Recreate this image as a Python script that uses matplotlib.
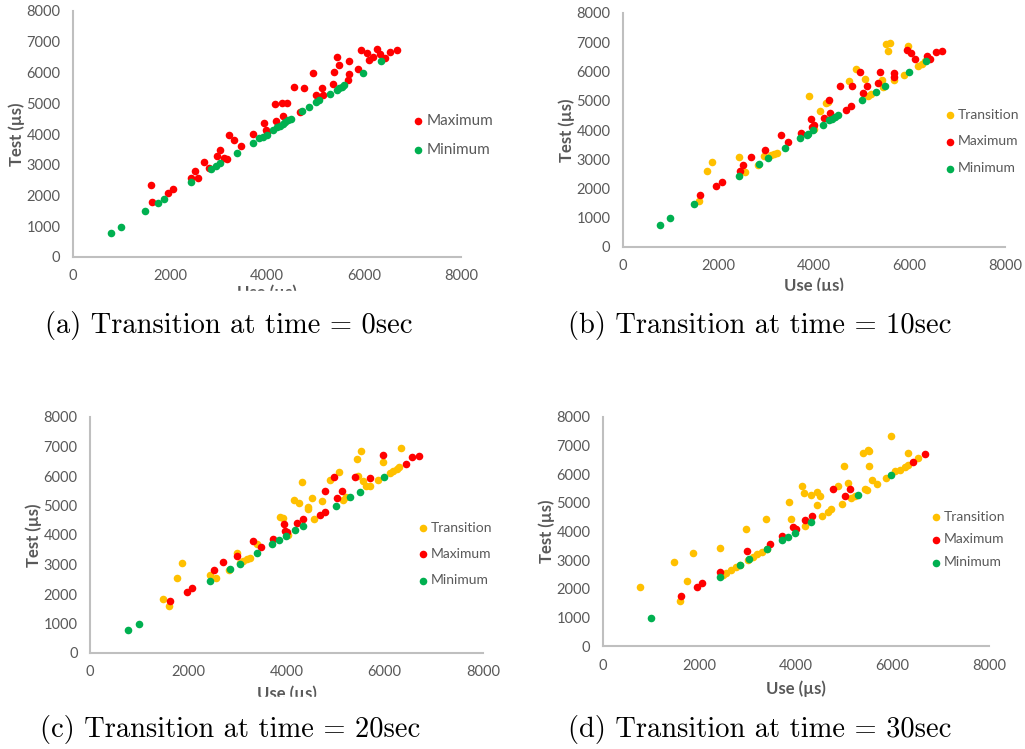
import matplotlib
matplotlib.use('Agg')
import matplotlib.pyplot as plt
from matplotlib.patches import Rectangle

# (a) transition at 0 s
a_max_x = [1600, 1620, 1960, 2065, 2430, 2510, 2580, 2700, 2810, 2970, 3030, 3110, 3180, 3220,
           3315, 3460, 3715, 3935, 3970, 4010, 4175, 4195, 4300, 4335, 4415, 4555, 4680, 4770,
           4955, 5020, 5125, 5160, 5365, 5385, 5450, 5485, 5675, 5690, 5690, 5870, 5945, 6055,
           6110, 6180, 6270, 6330, 6435, 6535, 6675]
a_max_y = [2350, 1780, 2080, 2210, 2570, 2810, 2570, 3080, 2900, 3300, 3480, 3210, 3190, 3960,
           3820, 3600, 4000, 4370, 4145, 4050, 4960, 4430, 5010, 4570, 5010, 5530, 4710, 5510,
           6000, 5280, 5510, 5260, 5620, 6010, 6510, 6240, 5770, 6390, 5960, 6120, 6740, 6620,
           6420, 6500, 6770, 6600, 6460, 6680, 6730]
a_min_x = [780, 985, 1480, 1760, 1880, 2430, 2855, 2945, 3040, 3385, 3715, 3845, 3920, 3990,
           4130, 4200, 4265, 4320, 4380, 4440, 4500, 4730, 4870, 5020, 5070, 5300, 5435, 5490,
           5540, 5590, 5970, 6345]
a_min_y = [770, 980, 1485, 1760, 1880, 2440, 2865, 2960, 3050, 3395, 3710, 3865, 3915, 3980,
           4145, 4220, 4270, 4325, 4390, 4445, 4500, 4740, 4885, 5035, 5100, 5305, 5430, 5490,
           5540, 5590, 5980, 6370]

# (b) transition at 10 s
b_tr_x = [1585, 1750, 1870, 2425, 2560, 2820, 2955, 3100, 3170, 3230, 3890, 4010, 4135, 4255,
          4300, 4730, 4875, 5070, 5140, 5190, 5420, 5455, 5515, 5585, 5540, 5685, 5875, 5965,
          6185, 6255, 6325]
b_tr_y = [1580, 2600, 2920, 3065, 2555, 2820, 3110, 3130, 3190, 3230, 5170, 4035, 4645, 4910,
          4965, 5670, 6090, 5750, 5170, 5220, 5725, 5455, 6940, 6975, 6700, 5715, 5875, 6860,
          6190, 6270, 6350]
b_max_x = [1610, 1955, 2070, 2440, 2510, 2685, 2980, 3315, 3460, 3725, 3940, 3955, 3990, 4200,
           4305, 4340, 4550, 4675, 4765, 4790, 4965, 5035, 5120, 5350, 5385, 5685, 5680, 5945,
           6035, 6105, 6360, 6430, 6550, 6680]
b_max_y = [1770, 2080, 2215, 2590, 2820, 3090, 3315, 3815, 3600, 3885, 4375, 4110, 4170, 4420,
           5020, 4565, 5520, 4670, 4805, 5500, 5995, 5260, 5490, 5600, 5985, 5955, 5805, 6725,
           6620, 6420, 6545, 6440, 6670, 6715]
b_min_x = [775, 985, 1480, 2425, 2855, 3040, 3395, 3710, 3845, 3870, 3985, 4180, 4315, 4380,
           4440, 4510, 5010, 5300, 5490, 5980, 6345]
b_min_y = [760, 975, 1475, 2420, 2850, 3045, 3385, 3715, 3840, 3860, 3990, 4170, 4330, 4380,
           4440, 4510, 5010, 5295, 5500, 5975, 6350]

# (c) transition at 20 s
c_tr_x = [1485, 1600, 1765, 1880, 2440, 2575, 2835, 2985, 3050, 3120, 3190, 3250, 3390, 3865,
          3920, 4035, 4150, 4250, 4310, 4440, 4440, 4510, 4555, 4730, 4880, 5070, 5150, 5220,
          5425, 5460, 5510, 5560, 5625, 5695, 5865, 5965, 6100, 6170, 6240, 6300, 6340]
c_tr_y = [1830, 1580, 2530, 3050, 2655, 2540, 2825, 3390, 3050, 3120, 3190, 3220, 3695, 4600,
          4575, 4010, 5175, 5085, 5785, 4895, 4950, 5255, 4555, 5140, 5875, 6135, 5200, 5290,
          6575, 5990, 6835, 5820, 5675, 5675, 5855, 6485, 6100, 6170, 6240, 6300, 6950]
c_max_x = [1625, 1965, 2080, 2520, 2700, 2990, 3310, 3480, 3730, 3945, 3965, 4000, 4205, 4340,
           4690, 4780, 4785, 4970, 5035, 5120, 5395, 5695, 5955, 6425, 6550, 6690]
c_max_y = [1775, 2080, 2205, 2800, 3075, 3300, 3810, 3580, 3865, 4375, 4125, 4090, 4395, 4545,
           4680, 4780, 5480, 5965, 5245, 5480, 5980, 5930, 6710, 6405, 6635, 6680]
c_min_x = [780, 995, 2440, 2855, 3045, 3405, 3715, 3850, 3980, 4175, 4340, 5015, 5300, 5500,
           5985]
c_min_y = [770, 985, 2430, 2835, 3015, 3380, 3695, 3820, 3980, 4160, 4315, 4995, 5290, 5470,
           5965]

# (d) transition at 30 s
d_tr_x = [765, 1475, 1590, 1750, 1865, 2425, 2480, 2550, 2650, 2760, 2840, 3000, 3100, 3200,
          3300, 3400, 2960, 3375, 3860, 3895, 4130, 4160, 4185, 4320, 4425, 4425, 4495, 4530,
          4665, 4735, 4875, 4945, 5000, 5070, 5150, 5220, 5395, 5485, 5515, 5425, 5475, 5515,
          5565, 5670, 5865, 5960, 6050, 6150, 6250, 6330, 6530, 6325]
d_tr_y = [2060, 2920, 1570, 2255, 3255, 3420, 2480, 2550, 2650, 2760, 2840, 3000, 3120, 3200,
          3300, 3400, 4095, 4440, 5035, 4430, 5595, 5350, 4185, 5290, 5385, 4930, 5245, 4545,
          4665, 4770, 5595, 4945, 6280, 5700, 5185, 5235, 6745, 6840, 6805, 5500, 5445, 6305,
          5790, 5675, 5875, 7340, 6100, 6160, 6250, 6330, 6580, 6755]
d_max_x = [1610, 1950, 2060, 2435, 2975, 3455, 3720, 3940, 3990, 4185, 4335, 4770, 5025, 5115,
           6430, 6670]
d_max_y = [1755, 2070, 2210, 2580, 3305, 3580, 3860, 4140, 4080, 4395, 4545, 5500, 5255, 5490,
           6420, 6700]
d_min_x = [990, 2425, 2840, 3035, 3390, 3700, 3835, 3975, 4305, 5290, 5960]
d_min_y = [965, 2420, 2840, 3025, 3385, 3700, 3815, 3965, 4315, 5290, 5965]

captions = ['(a) Transition at time = 0sec', '(b) Transition at time = 10sec',
            '(c) Transition at time = 20sec', '(d) Transition at time = 30sec']

W, H = 1025, 749
GREY = '#595959'
C_TR, C_MAX, C_MIN = '#FFC000', '#FF0000', '#00B050'
TICK_FS, LAB_FS = 10.5, 12

plt.rcParams['font.family'] = 'Lato'

fig = plt.figure(figsize=(W / 100, H / 100), dpi=100)


def px_axes(left, top, right, bottom):
    return fig.add_axes([left / W, 1 - bottom / H, (right - left) / W, (bottom - top) / H])


panels = [
    # axes box (px), legend marker x/y of first row (px), legend size, row gap, xlabel pad
    dict(box=(73, 11, 461, 257), leg=(418, 120), lfs=11, gap=0.98, lpad=1,
         series=[(a_max_x, a_max_y, C_MAX, 'Maximum'), (a_min_x, a_min_y, C_MIN, 'Minimum')]),
    dict(box=(623, 13, 1005, 247), leg=(950, 114), lfs=10, gap=1.07, lpad=3,
         series=[(b_tr_x, b_tr_y, C_TR, 'Transition'), (b_max_x, b_max_y, C_MAX, 'Maximum'),
                 (b_min_x, b_min_y, C_MIN, 'Minimum')]),
    dict(box=(90, 417, 483, 653), leg=(423, 527), lfs=10, gap=1.04, lpad=4,
         series=[(c_tr_x, c_tr_y, C_TR, 'Transition'), (c_max_x, c_max_y, C_MAX, 'Maximum'),
                 (c_min_x, c_min_y, C_MIN, 'Minimum')]),
    dict(box=(603, 417, 989, 646), leg=(936, 516), lfs=10, gap=0.78, lpad=6,
         series=[(d_tr_x, d_tr_y, C_TR, 'Transition'), (d_max_x, d_max_y, C_MAX, 'Maximum'),
                 (d_min_x, d_min_y, C_MIN, 'Minimum')]),
]

hl = 0.7

for p in panels:
    ax = px_axes(*p['box'])
    for xs, ys, col, lab in p['series']:
        ax.scatter(xs, ys, s=30, color=col, label=lab, linewidths=0, clip_on=False)
    ax.set_xlim(0, 8000)
    ax.set_ylim(0, 8000)
    ax.set_xticks(range(0, 8001, 2000))
    ax.set_yticks(range(0, 8001, 1000))
    for side in ('top', 'right'):
        ax.spines[side].set_visible(False)
    for side in ('left', 'bottom'):
        ax.spines[side].set_color('#BFBFBF')
        ax.spines[side].set_linewidth(1.5)
    ax.tick_params(length=0, labelsize=TICK_FS, labelcolor=GREY)
    ax.tick_params(axis='y', pad=9)
    ax.tick_params(axis='x', pad=9)
    ax.set_xlabel('Use (µs)', fontsize=LAB_FS, fontweight='bold', color=GREY, labelpad=p['lpad'])
    ax.set_ylabel('Test (µs)', fontsize=LAB_FS, fontweight='bold', color=GREY, labelpad=1)

    mx, my = p['leg']
    fs_px = p['lfs'] * 100 / 72
    ax.legend(loc='upper left', frameon=False, fontsize=p['lfs'], labelcolor=GREY,
              handlelength=hl, handletextpad=0.2, borderpad=0, borderaxespad=0,
              labelspacing=p['gap'], scatterpoints=1,
              bbox_to_anchor=((mx - hl * fs_px / 2) / W, 1 - (my - fs_px * 0.39) / H),
              bbox_transform=fig.transFigure)

# the x-axis titles of the upper panels and panel (c) are cut off at the bottom
for x0, y0, w, h in [(0, 291, 512, 16), (512, 291, 513, 16), (0, 697, 512, 10)]:
    fig.patches.append(Rectangle((x0 / W, 1 - (y0 + h) / H), w / W, h / H,
                                 transform=fig.transFigure, color='white', zorder=5))

for cap, (cx, cy) in zip(captions, [(45, 325), (568, 325), (40, 730), (568, 730)]):
    fig.text(cx / W, 1 - cy / H, cap, family='cmr10', fontsize=20.5, ha='left', va='center',
             zorder=10)

fig.savefig('out.png', dpi=100)
